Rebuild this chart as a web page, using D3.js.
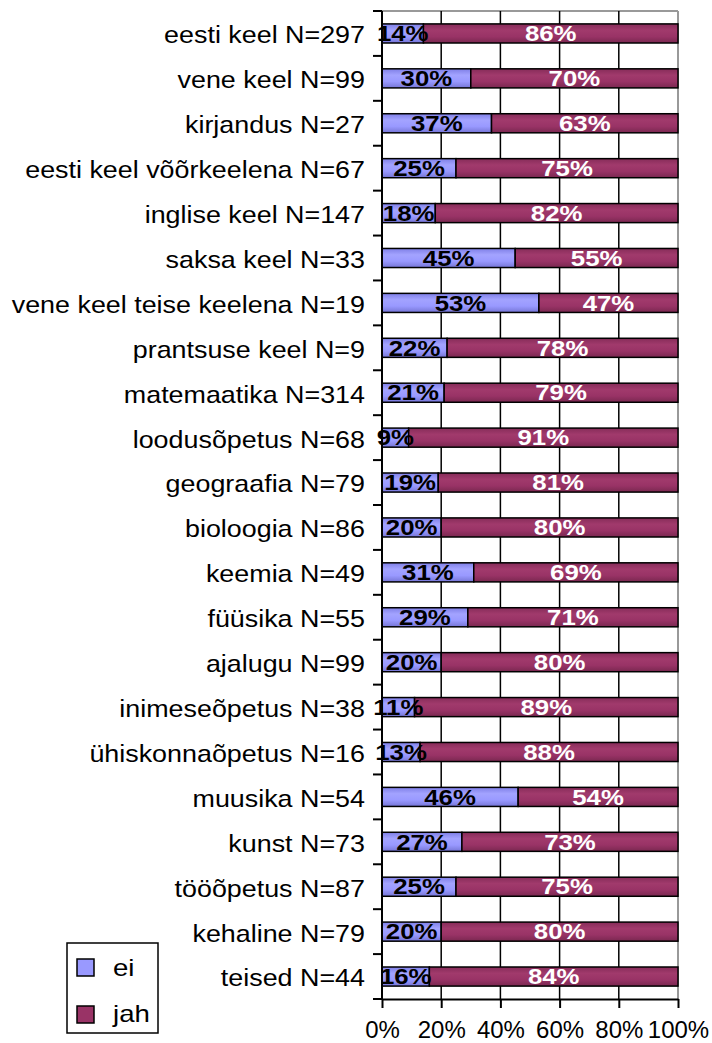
<!DOCTYPE html>
<html>
<head>
<meta charset="utf-8">
<script src="https://cdn.jsdelivr.net/npm/d3@7"></script>
<style>
  body { margin: 0; background: #fff; }
  svg { display: block; font-family: "Liberation Sans", Arial, sans-serif; }
</style>
</head>
<body>
<div id="chart"></div>
<script>
// data
const categories = ["eesti keel N=297", "vene keel N=99", "kirjandus N=27", "eesti keel võõrkeelena N=67",
  "inglise keel N=147", "saksa keel N=33", "vene keel teise keelena N=19", "prantsuse keel N=9",
  "matemaatika N=314", "loodusõpetus N=68", "geograafia N=79", "bioloogia N=86", "keemia N=49",
  "füüsika N=55", "ajalugu N=99", "inimeseõpetus N=38", "ühiskonnaõpetus N=16", "muusika N=54",
  "kunst N=73", "tööõpetus N=87", "kehaline N=79", "teised N=44"]
const ei  = [14, 30, 37, 25, 18, 45, 53, 22, 21, 9, 19, 20, 31, 29, 20, 11, 13, 46, 27, 25, 20, 16]
const jah = [86, 70, 63, 75, 82, 55, 47, 78, 79, 91, 81, 80, 69, 71, 80, 89, 88, 54, 73, 75, 80, 84]
const seriesNames = ["ei", "jah"]
const tickValues = [0, 0.2, 0.4, 0.6, 0.8, 1]

let outerWidth = 712
let outerHeight = 1043
let margin = {top: 11, bottom: 44, left: 382, right: 34}
let width = outerWidth - margin.left - margin.right
let height = outerHeight - margin.top - margin.bottom

const svg = d3.select("#chart")
    .append("svg")
    .attr("width", outerWidth)
    .attr("height", outerHeight)

// gradients like the old office bars
const defs = svg.append("defs")
const grads = [
    {id: "g-ei", stops: ["#7f7fe6", "#a3a3ff", "#9999ff", "#7575d6"]},
    {id: "g-jah", stops: ["#862c59", "#a13a6c", "#993366", "#7a2850"]}
]
grads.forEach(g => {
    const lg = defs.append("linearGradient").attr("id", g.id)
        .attr("x1", 0).attr("y1", 0).attr("x2", 0).attr("y2", 1)
    g.stops.forEach((c, i) => lg.append("stop")
        .attr("offset", (i / (g.stops.length - 1) * 100) + "%")
        .attr("stop-color", c))
})

const g = svg.append("g")
    .attr("transform", `translate(${margin.left}, ${margin.top})`)

const rows = categories.map((c, i) => {
    const total = ei[i] + jah[i]
    return {cat: c, ei: ei[i], jah: jah[i], eiShare: ei[i] / total, jahShare: jah[i] / total}
})

const x = d3.scaleLinear().domain([0, 1]).range([0, width])
const y = d3.scaleBand().domain(categories).range([0, height]).paddingInner(0.575).paddingOuter(0.2875)

// the picture is a bit stretched sideways, text too
const stretch = (tx, ty, s) => `translate(${tx}, ${ty}) scale(${s}, 1)`

// plot frame, top and right in gray
g.append("line").attr("x1", 0).attr("x2", width).attr("y1", 0).attr("y2", 0)
    .attr("stroke", "#999").attr("stroke-width", 2)
g.append("line").attr("x1", width).attr("x2", width).attr("y1", 0).attr("y2", height)
    .attr("stroke", "#999").attr("stroke-width", 2)

// vertical gridlines
g.selectAll(".grid")
    .data(tickValues.slice(1, -1))
    .enter()
    .append("line")
    .attr("x1", d => x(d)).attr("x2", d => x(d))
    .attr("y1", 0).attr("y2", height)
    .attr("stroke", "#000").attr("stroke-width", 1.5)

// bars
const rowG = g.selectAll(".row")
    .data(rows)
    .enter()
    .append("g")
    .attr("transform", d => `translate(0, ${y(d.cat)})`)

rowG.append("rect")
    .attr("x", 0)
    .attr("width", d => x(d.eiShare))
    .attr("height", y.bandwidth())
    .attr("fill", "url(#g-ei)")
    .attr("stroke", "#000").attr("stroke-width", 1.5)

rowG.append("rect")
    .attr("x", d => x(d.eiShare))
    .attr("width", d => x(d.jahShare))
    .attr("height", y.bandwidth())
    .attr("fill", "url(#g-jah)")
    .attr("stroke", "#000").attr("stroke-width", 1.5)

rowG.append("text")
    .attr("transform", d => stretch(x(d.eiShare / 2), y.bandwidth() / 2, 1.2))
    .attr("dy", "0.36em")
    .attr("text-anchor", "middle")
    .attr("font-weight", "bold")
    .attr("font-size", 21.5)
    .attr("fill", "#000")
    .text(d => d.ei + "%")

rowG.append("text")
    .attr("transform", d => stretch(x(d.eiShare + d.jahShare / 2), y.bandwidth() / 2, 1.2))
    .attr("dy", "0.36em")
    .attr("text-anchor", "middle")
    .attr("font-weight", "bold")
    .attr("font-size", 21.5)
    .attr("fill", "#fff")
    .text(d => d.jah + "%")

// y axis: ticks between categories
const yAxis = g.append("g")
yAxis.append("line").attr("x1", 0).attr("x2", 0).attr("y1", 0).attr("y2", height)
    .attr("stroke", "#000").attr("stroke-width", 2)
const step = y.step()
yAxis.selectAll(".ytick")
    .data(d3.range(categories.length + 1))
    .enter()
    .append("line")
    .attr("x1", -9).attr("x2", 0)
    .attr("y1", i => i * step).attr("y2", i => i * step)
    .attr("stroke", "#000").attr("stroke-width", 2)
yAxis.selectAll(".ylab")
    .data(categories)
    .enter()
    .append("text")
    .attr("transform", d => stretch(-17, y(d) + y.bandwidth() / 2 + 1.5, 1.12))
    .attr("dy", "0.35em")
    .attr("text-anchor", "end")
    .attr("font-size", 24)
    .attr("fill", "#000")
    .text(d => d)

// x axis
const xAxis = g.append("g").attr("transform", `translate(0, ${height})`)
    .call(d3.axisBottom(x).tickValues(tickValues).tickFormat(d3.format(".0%")).tickSize(9).tickSizeOuter(0))
xAxis.select(".domain").attr("stroke", "#000").attr("stroke-width", 2)
xAxis.selectAll(".tick line").attr("stroke", "#000").attr("stroke-width", 2)
xAxis.selectAll(".tick text")
    .attr("font-size", 24)
    .attr("font-family", "Liberation Sans, Arial, sans-serif")
    .attr("fill", "#000")
    .attr("y", 31)
    .attr("dy", "0.35em")

// legend
const legend = svg.append("g").attr("transform", "translate(67, 943)")
legend.append("rect")
    .attr("width", 91).attr("height", 90)
    .attr("fill", "#fff").attr("stroke", "#000").attr("stroke-width", 1.5)
const legendFill = ["#9999ff", "#993366"]
seriesNames.forEach((s, i) => {
    legend.append("rect")
        .attr("x", 10).attr("y", 16 + i * 47)
        .attr("width", 17).attr("height", 17)
        .attr("fill", legendFill[i]).attr("stroke", "#000").attr("stroke-width", 1.5)
    legend.append("text")
        .attr("transform", stretch(46, 25 + i * 46, 1.2))
        .attr("dy", "0.35em")
        .attr("font-size", 23)
        .attr("fill", "#000")
        .text(s)
})
</script>
</body>
</html>
